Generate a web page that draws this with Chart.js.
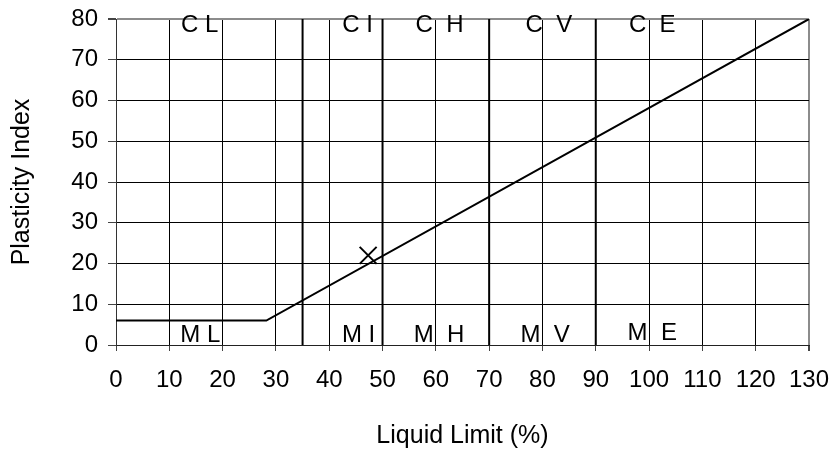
<!DOCTYPE html>
<html>
<head>
<meta charset="utf-8">
<script src="https://cdn.jsdelivr.net/npm/chart.js@4.4.0/dist/chart.umd.min.js"></script>
<style>
  html, body { margin: 0; padding: 0; background: #fff; }
  #wrap { width: 831px; height: 451px; }
</style>
</head>
<body>
<div id="wrap"><canvas id="plasticityChart" width="831" height="451"></canvas></div>
<script>
// A-line (PI = 0.73 (LL - 20), flat at PI 6 below the kink)
const aLineLL = [0, 28.2, 130];
const aLinePI = [6, 6, 80];

// plasticity boundaries between L / I / H / V / E
const boundaryLL = [35, 50, 70, 90];
const boundaryPI = [0, 80];

// the tested sample
const sampleLL = [47.3];
const samplePI = [22];

// zone labels
const zoneText = ['C L', 'C I', 'C  H', 'C  V', 'C  E', 'M L', 'M I', 'M  H', 'M  V', 'M  E'];
const zoneLL   = [15.7, 45.3, 60.7, 81.2, 100.6, 15.8, 45.5, 60.6, 80.5, 100.6];
const zonePI   = [78.5, 78.5, 78.5, 78.5, 78.5, 2.4, 2.4, 2.4, 2.4, 2.9];

const xTicks = [0, 10, 20, 30, 40, 50, 60, 70, 80, 90, 100, 110, 120, 130];
const yTicks = [0, 10, 20, 30, 40, 50, 60, 70, 80];

Chart.defaults.font.family = "'Liberation Sans', Arial, sans-serif";
Chart.defaults.font.size = 24;
Chart.defaults.color = '#000';

const toPoints = (xs, ys) => xs.map((x, i) => ({ x: x, y: ys[i] }));

const datasets = [{
    label: 'A-line',
    data: toPoints(aLineLL, aLinePI),
    showLine: true,
    borderColor: '#000',
    borderWidth: 2,
    pointRadius: 0
}];

boundaryLL.forEach(ll => {
    datasets.push({
        label: 'LL ' + ll,
        data: toPoints([ll, ll], boundaryPI),
        showLine: true,
        borderColor: '#000',
        borderWidth: 2,
        pointRadius: 0
    });
});

datasets.push({
    label: 'Sample',
    data: toPoints(sampleLL, samplePI),
    showLine: false,
    pointStyle: 'crossRot',
    pointRadius: 12,
    borderColor: '#000',
    borderWidth: 2
});

// zone labels drawn on top of the grid
const zoneLabels = {
    id: 'zoneLabels',
    beforeDatasetsDraw(chart) {
        const { ctx, scales: { x, y } } = chart;
        ctx.save();
        ctx.font = "24px 'Liberation Sans', Arial, sans-serif";
        ctx.fillStyle = '#000';
        ctx.textAlign = 'center';
        ctx.textBaseline = 'middle';
        zoneText.forEach((t, i) => {
            ctx.fillText(t, x.getPixelForValue(zoneLL[i]), y.getPixelForValue(zonePI[i]));
        });
        ctx.restore();
    }
};

const ctx = document.getElementById('plasticityChart').getContext('2d');
const chart = new Chart(ctx, {
    type: 'scatter',
    data: { datasets: datasets },
    options: {
        responsive: false,
        animation: false,
        layout: { padding: { left: 0, top: 19, right: 22, bottom: 0 } },
        plugins: {
            legend: { display: false },
            tooltip: { enabled: false }
        },
        scales: {
            x: {
                type: 'linear',
                min: 0,
                max: 130,
                afterBuildTicks: s => { s.ticks = xTicks.map(v => ({ value: v })); },
                afterFit: s => {
                    s.height = 106;
                    s.paddingLeft = 0;
                    s.paddingRight = 0;
                },
                ticks: { padding: 15, maxRotation: 0 },
                grid: {
                    color: c => (c.tick && c.tick.value === 130) ? '#8c8c8c' : '#000',
                    lineWidth: c => (c.tick && c.tick.value === 130) ? 2 : 1,
                    tickLength: 6,
                    tickColor: '#444'
                },
                border: { color: '#222', width: 1 },
                title: {
                    display: true,
                    text: 'Liquid Limit (%)',
                    font: { size: 25, lineHeight: 1.2 },
                    padding: { top: 0, bottom: 0 }
                }
            },
            y: {
                type: 'linear',
                min: 0,
                max: 80,
                afterBuildTicks: s => { s.ticks = yTicks.map(v => ({ value: v })); },
                afterFit: s => {
                    s.width = 116;
                    s.paddingTop = 0;
                    s.paddingBottom = 0;
                },
                ticks: { padding: 10 },
                grid: {
                    color: c => (c.tick && c.tick.value === 80) ? '#8c8c8c' : '#000',
                    lineWidth: c => (c.tick && c.tick.value === 80) ? 2 : 1,
                    tickLength: 8,
                    tickColor: '#444'
                },
                border: { color: '#333', width: 1 },
                title: {
                    display: true,
                    text: 'Plasticity Index',
                    font: { size: 25, lineHeight: 1.2 },
                    padding: { top: 7, bottom: 0 }
                }
            }
        }
    },
    plugins: [zoneLabels]
});
</script>
</body>
</html>
